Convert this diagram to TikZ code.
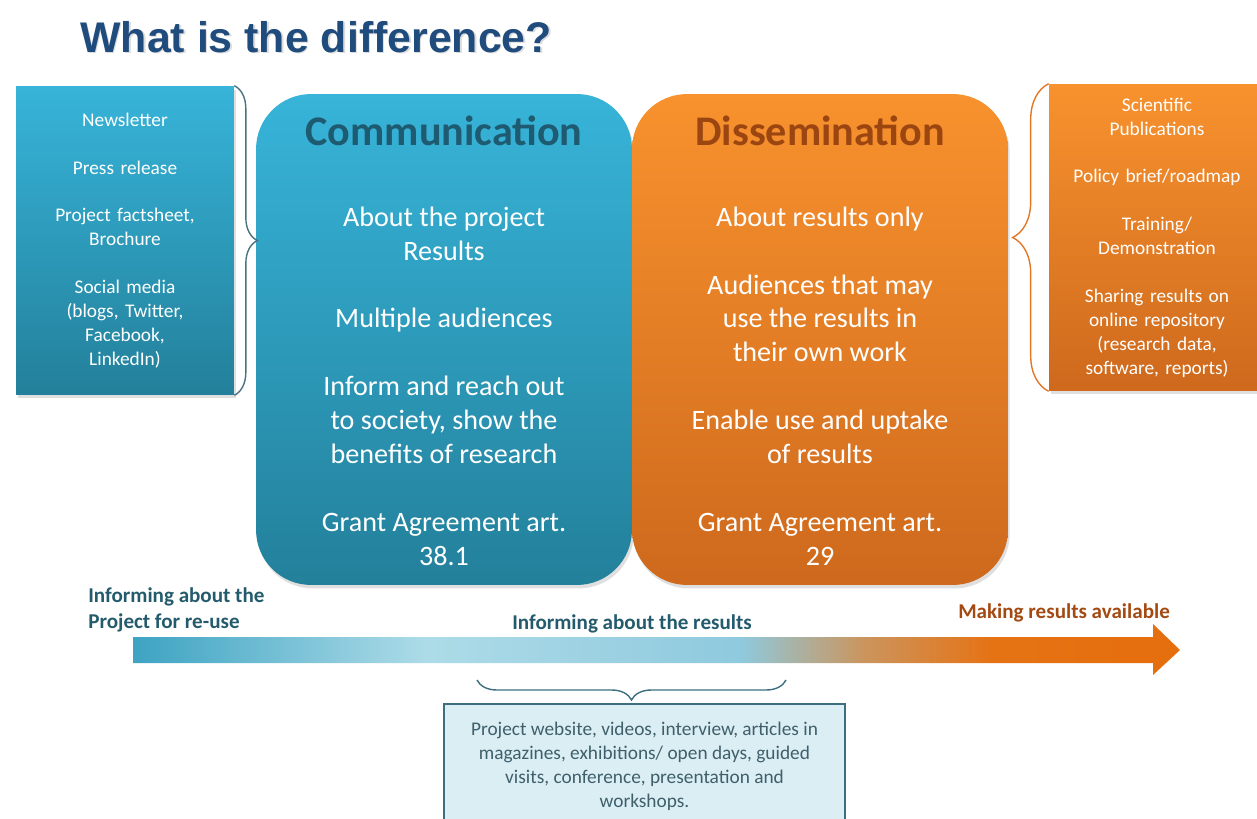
\documentclass[tikz,border=0pt]{standalone}
\usepackage{fontspec}
\setmainfont{Carlito}
\newfontfamily\titlefont{Liberation Sans}
\usetikzlibrary{positioning, calc, shadows, decorations.pathreplacing}

\definecolor{commtop}{HTML}{37B4D9}
\definecolor{commbot}{HTML}{23809B}
\definecolor{disstop}{HTML}{F8922E}
\definecolor{dissbot}{HTML}{CE691D}
\definecolor{commhead}{HTML}{1E5A70}
\definecolor{disshead}{HTML}{9B4611}
\definecolor{titleblue}{HTML}{1F4B7D}
\definecolor{bartext}{HTML}{245B6C}
\definecolor{availtext}{HTML}{A34A12}
\definecolor{bracegray}{HTML}{4A7282}
\definecolor{braceorange}{HTML}{E37726}
\definecolor{notefill}{HTML}{DBEEF4}
\definecolor{noteline}{HTML}{3C6E80}
\definecolor{notetext}{HTML}{3F5F6B}

% the path is fitted to 25bp--75bp of the shading
\pgfdeclarehorizontalshading{infobar}{100bp}{rgb(0bp)=(0.24,0.64,0.76); rgb(25bp)=(0.24,0.64,0.76); rgb(39bp)=(0.68,0.86,0.91); rgb(54bp)=(0.56,0.79,0.87); rgb(60bp)=(0.80,0.58,0.36); rgb(66bp)=(0.90,0.45,0.08); rgb(75bp)=(0.90,0.43,0.05); rgb(100bp)=(0.90,0.43,0.05)}

\begin{document}
\begin{tikzpicture}[x=0.02cm, y=-0.02cm,
    bigbox/.style={rounded corners=1.1cm, minimum width=7.52cm, minimum height=9.82cm, inner sep=0pt,
        drop shadow={opacity=0.25, shadow xshift=1pt, shadow yshift=-2pt}},
    sidebox/.style={inner sep=0pt, text=white, align=center, text width=4cm,
        font=\fontsize{11}{13.6}\selectfont,
        drop shadow={opacity=0.25, shadow xshift=1pt, shadow yshift=-2pt}},
    headtext/.style={font=\fontsize{24}{28}\selectfont\bfseries},
    bodytext/.style={text=white, align=center, font=\fontsize{16}{19.3}\selectfont},
    bartext/.style={text=bartext, font=\fontsize{12}{14.7}\selectfont\bfseries, inner sep=0pt},
    bracket/.style={decorate, decoration={brace, amplitude=#1}, line width=0.8pt}]

    \useasboundingbox (0,0) rectangle (1257,818);
    \clip (0,0) rectangle (1257,818);

    % Title
    \node[anchor=base west, inner sep=0pt, text=black!30, opacity=0.45, font=\titlefont\fontsize{24.4}{28}\selectfont\bfseries] at (81.5,53.5) {What is the difference?};
    \node[anchor=base west, inner sep=0pt, text=titleblue, font=\titlefont\fontsize{24.4}{28}\selectfont\bfseries] (title) at (80,52) {What is the difference?};

    % Side boxes
    \node[sidebox, minimum width=4.36cm, minimum height=6.18cm, top color=commtop, bottom color=commbot] (commlist) at (125,240.5)
        {Newsletter\\[13.6pt]Press release\\[13.6pt]Project factsheet,\\Brochure\\[13.6pt]Social media\\(blogs, Twitter,\\Facebook,\\LinkedIn)};
    \node[sidebox, minimum width=4.32cm, minimum height=6.14cm, top color=disstop, bottom color=dissbot] (disslist) at (1157,237.5)
        {Scientific\\Publications\\[13.6pt]Policy brief/roadmap\\[13.6pt]Training/\\Demonstration\\[13.6pt]Sharing results on\\online repository\\(research data,\\software, reports)};

    % Main boxes
    \node[bigbox, top color=commtop, bottom color=commbot] (comm) at (444,339.5) {};
    \node[bigbox, top color=disstop, bottom color=dissbot] (diss) at (820,339.5) {};

    \node[headtext, text=commhead] (commhead) at (444,131) {Communication};
    \node[headtext, text=disshead] (disshead) at (820,131) {Dissemination};

    \node[bodytext] (commbody) at (444,386)
        {About the project\\Results\\[19.3pt]Multiple audiences\\[19.3pt]Inform and reach out\\to society, show the\\benefits of research\\[19.3pt]Grant Agreement art.\\38.1};
    \node[bodytext] (dissbody) at (820,386)
        {About results only\\[19.3pt]Audiences that may\\use the results in\\their own work\\[19.3pt]Enable use and uptake\\of results\\[19.3pt]Grant Agreement art.\\29};

    % Braces next to the side boxes
    \draw[bracket=0.46cm, bracegray] (commlist.north east) -- (commlist.south east);
    \draw[bracket=0.72cm, braceorange] (disslist.south west) -- (disslist.north west);

    % Arrow from communication to dissemination
    \path[shading=infobar] (133,637) -- (1153,637) -- (1153,624) -- (1180,650) -- (1153,675) -- (1153,663) -- (133,663) -- cycle;

    \node[bartext, anchor=west, align=left] (project) at (88,610) {Informing about the\\Project for re-use};
    \node[bartext] (results) at (632,624) {Informing about the results};
    \node[bartext, text=availtext] (avail) at (1064,613) {Making results available};

    % Channels for both
    \coordinate (braceright) at (786,680);
    \coordinate (braceleft) at (477,680);
    \draw[bracket=0.4cm, noteline] (braceright) -- (braceleft);

    \node[draw=noteline, fill=notefill, line width=0.8pt, minimum width=8.02cm, minimum height=2.48cm,
        text=notetext, align=center, font=\fontsize{11}{13.6}\selectfont] (channels) at (644.5,766)
        {Project website, videos, interview, articles in\\magazines, exhibitions/ open days, guided\\visits, conference, presentation and\\workshops.};
\end{tikzpicture}
\end{document}
